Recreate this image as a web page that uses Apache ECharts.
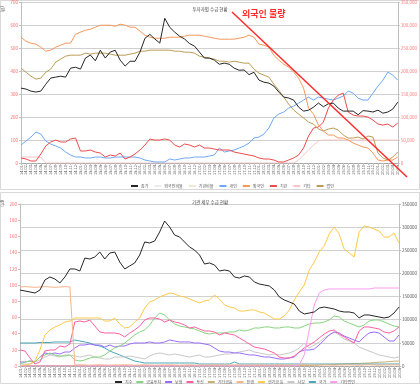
<!DOCTYPE html>
<html><head><meta charset="utf-8">
<script src="https://cdn.jsdelivr.net/npm/echarts@6/dist/echarts.min.js"></script>
<style>html,body{margin:0;padding:0;background:#fff}#c{width:420px;height:384px}</style>
</head><body><div id="c"></div>
<script>
const categories = ["14.01","14.02","14.03","14.04","14.05","14.06","14.07","14.08","14.09","14.10","14.11","14.12",
"15.01","15.02","15.03","15.04","15.05","15.06","15.07","15.08","15.09","15.10","15.11","15.12",
"16.01","16.02","16.03","16.04","16.05","16.06","16.07","16.08","16.09","16.10","16.11","16.12",
"17.01","17.02","17.03","17.04","17.05","17.06","17.07","17.08","17.09","17.10","17.11","17.12",
"18.01","18.02","18.03","18.04","18.05","18.06","18.07","18.08","18.09","18.10","18.11","18.12",
"19.01","19.02","19.03","19.04","19.05","19.06","19.07","19.08","19.09","19.10","19.11","19.12",
"20.01","20.02","20.03","20.04","20.05"];

// Top chart
const topPrice = [326,322,313,309,313,343,370,374,378,374,413,417,409,457,470,445,491,457,483,491,448,422,443,443,483,543,560,540,522,630,591,570,552,540,520,509,483,457,457,448,430,435,430,413,404,405,385,395,361,352,348,335,309,287,283,274,243,226,230,243,261,245,258,261,239,226,226,226,210,228,226,222,230,217,222,235,265];
const topIndividual = [39100,47800,56500,67400,63000,47800,41300,37000,32600,23900,17400,13000,13000,10900,10900,13000,13000,10900,10900,13000,13000,13000,13000,13000,10900,6500,4300,2200,2200,2200,8700,6500,8700,10900,10900,13000,13000,13000,15200,17400,32600,23900,26100,28300,32600,37000,43500,54300,56500,63000,76100,97800,106500,110900,119600,123900,130400,137000,143500,137000,143500,141300,139100,137000,141300,145700,156500,152200,141300,137000,137000,152200,167400,180400,197800,191300,180400];
const topForeign = [273900,265200,260900,258700,252200,243500,245700,252200,256500,260900,260900,280400,284800,289100,291300,295700,300000,300000,300000,297800,302200,300000,295700,295700,287000,278300,273900,271700,271700,271700,273900,273900,273900,276100,278300,278300,278300,276100,273900,271700,269600,269600,269600,269600,271700,273900,278300,273900,258700,256500,252200,234800,223900,215200,208700,197800,184800,163000,119600,106500,82600,69600,60900,60900,54300,54300,50000,43500,39100,34800,32600,21700,6500,4300,6500,6500,13000];
const topInstitution = [10900,8700,4300,4300,19600,37000,45700,50000,45700,45700,52200,54300,26100,26100,28300,23900,21700,13000,17400,15200,21700,8700,13000,19600,28300,39100,52200,50000,50000,52200,50000,39100,34800,41300,39100,34800,39100,32600,32600,30400,28300,28300,28300,23900,21700,19600,17400,15200,10900,8700,8700,6500,2200,2200,6500,10900,17400,32600,58700,76100,78300,89100,119600,137000,147800,152200,110900,104400,102200,102200,100000,93500,84800,82600,84800,78300,87000];
const topEtc = [13000,13000,13000,13000,13000,0,0,0,0,0,
0,0,0,0,0,0,0,0,0,0,
0,0,0,0,0,0,0,0,0,0,
0,0,0,0,0,0,0,0,0,0,
0,0,0,0,0,0,0,0,0,0,
0,0,0,0,0,0,6500,17400,28300,39100,
47800,50000,50000,50000,50000,50000,50000,50000,50000,50000,
50000,50000,50000,50000,50000,50000,50000];
const topCorp = [206500,197800,189100,182600,184800,197800,204400,219600,226100,232600,234800,234800,234800,239100,237000,239100,239100,239100,237000,234800,234800,234800,237000,239100,243500,243500,245700,245700,245700,245700,245700,243500,243500,241300,241300,239100,232600,230400,228300,226100,221700,221700,219600,221700,219600,217400,217400,204400,195700,191300,187000,171700,158700,143500,128300,115200,106500,97800,89100,84800,73900,69600,73900,76100,71700,60900,54300,54300,56500,52200,58700,56500,21700,10900,6500,13000,23900];
const topNames = ["종가","외국인비율","기관비율","개인","외국인","기관","기타","법인"];
const topLeftTicks = {min:0, max:700, interval:100};
const topRightTicks = {min:0, max:350000, interval:50000};

// Bottom chart
const botIndex = [93.8,92.6,91.4,90.1,93.8,106.2,109.9,107.4,102.5,109.9,119.8,119.8,117.3,133.3,132.1,134.6,140.7,132.1,139.5,140.7,128.4,119.8,123.5,127.2,137.0,153.1,151.9,154.3,165.4,179.0,171.6,161.7,159.3,153.1,146.9,143.2,137.0,125.9,127.2,124.7,117.3,118.5,117.3,109.9,108.6,111.1,109.9,103.7,101.2,100.0,98.8,93.8,85.2,81.5,79.0,76.5,67.9,64.2,65.4,66.7,71.6,72.8,71.6,70.4,67.9,66.7,66.7,65.4,59.3,63.0,63.0,61.7,60.5,59.3,60.5,65.4,72.8];
const botFinInv = [4300,8600,10800,8600,19400,23800,28100,23800,21600,21600,23800,13000,10800,13000,17300,19400,19400,23800,32400,38900,43200,49700,58300,67000,73500,77800,88600,103700,114500,110200,99400,90700,86400,84300,82100,79900,75600,71300,69100,71300,71300,71300,73500,73500,77800,75600,77800,82100,82100,84300,84300,82100,82100,84300,84300,82100,82100,86400,90700,92900,92900,95100,99400,108000,105800,97200,92900,88600,84300,88600,97200,99400,99400,95100,90700,86400,84300];
const botInsurance = [8600,8600,10800,8600,19400,28100,25900,28100,25900,30200,30200,38900,45400,45400,47500,45400,45400,41000,45400,41000,43200,43200,47500,49700,49700,49700,51900,49700,49700,51900,56200,54000,51900,51900,51900,49700,49700,47500,45400,38900,32400,30200,30200,28100,28100,25900,23800,23800,21600,19400,19400,17300,15100,15100,17300,19400,30200,34600,34600,36700,45400,56200,67000,73500,71300,64800,60500,56200,51900,62700,71300,73500,71300,62700,54000,54000,67000];
const botTrust = [34600,32400,17300,4300,8600,32400,34600,34600,43200,41000,47500,95100,97200,95100,99400,86400,73500,71300,71300,71300,69100,62700,71300,77800,86400,99400,103700,103700,101500,95100,99400,95100,92900,88600,82100,84300,79900,75600,75600,73500,67000,71300,69100,67000,60500,54000,47500,41000,38900,36700,32400,28100,19400,17300,17300,21600,30200,38900,45400,51900,60500,69100,75600,77800,69100,62700,56200,49700,75600,84300,84300,82100,79900,73500,71300,75600,84300];
const botOtherFin = [1100,1100,1100,1100,1100,1100,1100,1100,1100,1100,
1100,1100,1100,1100,1100,1100,1100,1100,1100,1100,
1100,1100,1100,1100,1100,1100,1100,1100,1100,1100,
1100,1100,1100,1100,1100,1100,1100,1100,1100,1100,
1100,1100,1100,1100,1100,1100,1100,1100,1100,1100,
1100,1100,1100,1100,1100,1100,1100,1100,1100,1100,
2200,2600,3000,3500,3900,4300,4800,5200,5600,6100,
6500,7300,8200,8600,9500,10400,10800];
const botBank = [170700,171500,170700,170000,170700,171500,170700,170000,170700,171500,
170700,2200,2600,2200,1700,2200,2600,2200,1700,2200,
2200,2600,2200,1700,2200,2600,2200,1700,2200,2200,
2600,2200,1700,2200,2600,2200,1700,2200,2200,2600,
2200,1700,2200,2600,2200,1700,2200,2200,2600,2200,
1700,2200,2600,2200,1700,2200,2200,2600,2200,1700,
2200,2600,2200,1700,2200,2200,2600,2200,1700,2200,
2600,2200,1700,2200,2200,2600,2200];
const botPension = [0,2200,4300,10800,34600,67000,77800,84300,88600,95100,97200,103700,103700,103700,103700,103700,103700,97200,97200,103700,90700,82100,84300,95100,103700,125300,138300,142600,149100,153400,157700,155600,151200,149100,144800,140400,136100,140400,142600,153400,144800,131800,127500,125300,118800,118800,121000,121000,116700,114500,108000,101500,101500,108000,121000,142600,159900,175000,207400,224700,246300,259300,285200,300300,285200,252800,244100,235500,289500,302500,300300,296000,291700,278700,278700,287300,265700];
const botPrivate = [4300,4300,4300,8600,13000,19400,23800,21600,19400,23800,23800,21600,19400,21600,23800,19400,17300,15100,15100,19400,19400,19400,21600,19400,17300,15100,21600,25900,28100,25900,23800,25900,23800,21600,19400,21600,23800,19400,19400,21600,23800,25900,25900,28100,30200,32400,34600,30200,28100,25900,23800,25900,23800,25900,28100,32400,38900,49700,38900,45400,51900,60500,67000,73500,67000,58300,54000,49700,41000,36700,32400,28100,23800,21600,19400,17300,19400];
const botNation = [49700,49700,49700,49700,50800,50800,50800,51900,51900,51900,
51900,56200,54000,51900,49700,45400,43200,38900,32400,28100,
23800,19400,15100,10800,8600,6500,6500,6500,6500,6500,
6500,6500,6500,6500,6500,6500,4300,4300,4300,4300,
4300,4300,4300,8600,4300,4300,4300,4300,4300,4300,
4300,4300,4300,4300,4300,4300,4300,4300,4300,4300,
4300,4300,4300,4300,4300,4300,4300,4300,4300,4300,
4300,4300,4300,4300,4300,4300,4300];
const botEtcCorp = [0,0,0,0,0,0,0,0,0,0,
0,0,0,0,0,0,0,0,0,0,
0,0,0,0,0,0,0,0,0,0,
0,0,0,0,0,0,0,0,0,0,
0,0,0,0,0,0,0,0,0,0,
0,0,0,0,0,0,2200,23800,77800,131800,
157700,164200,166400,166400,166400,166400,166400,166400,166400,166400,
166400,168500,168500,168500,168500,168500,168500];
const botNames = ["지수","금융투자","보험","투신","기타금융","은행","연기금 등","사모","국가","기타법인"];
const botLeftTicks = {min:0, max:200, interval:20};
const botRightTicks = {min:0, max:350000, interval:50000};

const chart = echarts.init(document.getElementById('c'), null, {renderer:'canvas', width:420, height:384});
const FONT = 'Noto Sans CJK KR, Noto Sans, sans-serif';
function xAx(g){
  return {gridIndex:g, type:'category', data:categories, boundaryGap:false,
    axisLine:{lineStyle:{color:'#a6a6a6', width:1}},
    axisTick:{show:true, interval:0, length:2, lineStyle:{color:'#bfbfbf'}},
    axisLabel:{interval:0, rotate:90, fontSize:4, color:'#595959', margin:2, fontFamily:FONT}};
}
function yAx(g, ticks, pos, color, split, fmt){
  return {gridIndex:g, type:'value', position:pos, min:ticks.min, max:ticks.max, interval:ticks.interval,
    axisLine:{show:true, lineStyle:{color:'#bfbfbf'}},
    axisTick:{show:true, length:2, lineStyle:{color:'#bfbfbf'}},
    axisLabel:{fontSize:4.5, color:color, margin:3, fontFamily:FONT, formatter:fmt},
    splitLine:{show:split, lineStyle:{color:'#d0d0d0', width:1}}};
}
function ln(name, data, color, xi, yi, w){
  return {name:name, type:'line', data:data, xAxisIndex:xi, yAxisIndex:yi, symbol:'none',
    lineStyle:{color:color, width:w||1}, itemStyle:{color:color}, animation:false};
}
const commaFmt = v => v.toLocaleString('en-US');
const plainFmt = v => String(v);

chart.setOption({
  backgroundColor:'#ffffff',
  animation:false,
  textStyle:{fontFamily:FONT},
  title:[
    {text:'투자자별 수급 현황', left:'center', top:2, textStyle:{fontSize:4.5, fontWeight:'normal', color:'#404040'}},
    {text:'기관 세부 수급 현황', left:'center', top:195, textStyle:{fontSize:4.5, fontWeight:'normal', color:'#404040'}}
  ],
  grid:[{left:21, right:17, top:2, height:161}, {left:20, right:17, top:204, height:162}],
  xAxis:[xAx(0), xAx(1)],
  yAxis:[
    yAx(0, topLeftTicks, 'left', '#ff6b6b', true),
    yAx(0, topRightTicks, 'right', '#ff8080', false, commaFmt),
    yAx(1, botLeftTicks, 'left', '#ff6b6b', false),
    yAx(1, botRightTicks, 'right', '#595959', true, plainFmt)
  ],
  legend:[
    {data:topNames, top:179, left:126, itemWidth:7, itemHeight:2, itemGap:6, icon:'rect',
     textStyle:{fontSize:4, color:'#595959', padding:[0,0,0,-2]}},
    {data:botNames, top:375, left:110, itemWidth:7, itemHeight:2, itemGap:4, icon:'rect',
     textStyle:{fontSize:4, color:'#595959', padding:[0,0,0,-2]}}
  ],
  series:[
    ln(topNames[1], [], '#ececec', 0, 1),
    ln(topNames[2], [], '#f1e8d2', 0, 1),
    ln(topNames[6], topEtc, '#f7c6c6', 0, 1),
    ln(topNames[3], topIndividual, '#6fa8f7', 0, 1),
    ln(topNames[5], topInstitution, '#ee4b4b', 0, 1),
    ln(topNames[7], topCorp, '#bb9c55', 0, 1),
    ln(topNames[4], topForeign, '#f7975a', 0, 1),
    ln(topNames[0], topPrice, '#262626', 0, 0),

    ln(botNames[4], botOtherFin, '#c8b070', 1, 3),
    ln(botNames[8], botNation, '#4aa7b8', 1, 3),
    ln(botNames[7], botPrivate, '#c8c8c8', 1, 3),
    ln(botNames[2], botInsurance, '#9c6bff', 1, 3),
    ln(botNames[1], botFinInv, '#86d47f', 1, 3),
    ln(botNames[3], botTrust, '#ff5fa0', 1, 3),
    ln(botNames[5], botBank, '#f8b48a', 1, 3),
    ln(botNames[6], botPension, '#ffc94a', 1, 3),
    ln(botNames[9], botEtcCorp, '#ff9cf0', 1, 3),
    ln(botNames[0], botIndex, '#262626', 1, 2)
  ],
  graphic:[
    {type:'rect', shape:{x:0.5, y:0.5, width:419, height:189}, style:{fill:'none', stroke:'#d9d9d9', lineWidth:1}, z:0},
    {type:'rect', shape:{x:0.5, y:192.5, width:419, height:191}, style:{fill:'none', stroke:'#d9d9d9', lineWidth:1}, z:0},
    {type:'text', x:5, y:6, rotation:-Math.PI/2, style:{text:'(원)', fontSize:4, fill:'#595959', fontFamily:FONT}},
    {type:'text', x:5, y:200, rotation:-Math.PI/2, style:{text:'(pt)', fontSize:4, fill:'#595959', fontFamily:FONT}},
    {type:'line', shape:{x1:232, y1:12, x2:407, y2:177}, style:{stroke:'#ff2b2b', lineWidth:1.5}, z:100},
    {type:'text', x:242, y:9, style:{text:'외국인 물량', fontSize:9, fontWeight:'bold', fill:'#ff2b2b', fontFamily:FONT}, z:100}
  ]
});
</script></body></html>
